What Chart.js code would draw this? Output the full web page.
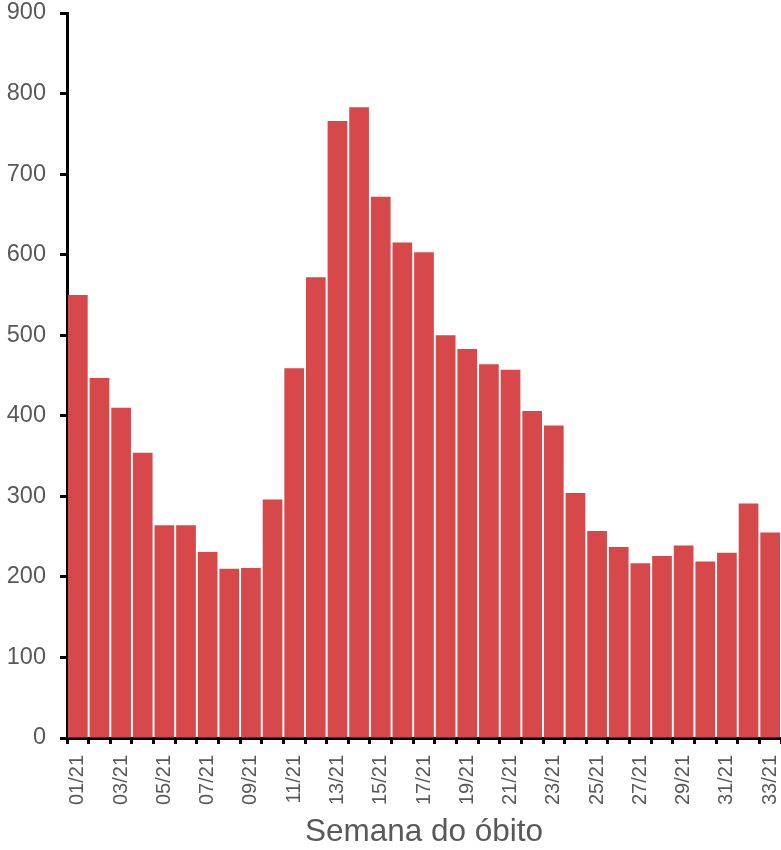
<!DOCTYPE html>
<html>
<head>
<meta charset="utf-8">
<script src="https://cdn.jsdelivr.net/npm/chart.js@4"></script>
<style>
  body { margin: 0; background: #fff; }
  #chart { display: block; }
</style>
</head>
<body>
<canvas id="chart" width="781" height="850"></canvas>
<script>
let weeks = ['01/21', '02/21', '03/21', '04/21', '05/21', '06/21', '07/21', '08/21', '09/21', '10/21', '11/21',
    '12/21', '13/21', '14/21', '15/21', '16/21', '17/21', '18/21', '19/21', '20/21', '21/21', '22/21',
    '23/21', '24/21', '25/21', '26/21', '27/21', '28/21', '29/21', '30/21', '31/21', '32/21', '33/21'];

let deaths = [550, 447, 410, 354, 264, 264, 231, 210, 211, 296, 459,
    572, 766, 783, 672, 615, 603, 500, 483, 464, 457, 406,
    388, 304, 257, 237, 217, 226, 239, 219, 230, 291, 255];

let yTicks = [0, 100, 200, 300, 400, 500, 600, 700, 800, 900];

let axisGray = '#595959';
let fontName = "'Liberation Sans', Arial, sans-serif";

let ctx = document.getElementById('chart').getContext('2d');

let barChart = new Chart(ctx, {
    type: 'bar',
    data: {
        labels: weeks,
        datasets: [{
            data: deaths,
            backgroundColor: 'rgb(214, 72, 73)',
            borderWidth: 0,
            barPercentage: 0.91,
            categoryPercentage: 1.0
        }]
    },
    options: {
        responsive: false,
        animation: false,
        layout: {
            padding: 0
        },
        plugins: {
            legend: { display: false },
            tooltip: { enabled: false }
        },
        scales: {
            x: {
                offset: true,
                // fixed axis height, no extra side padding for the rotated labels
                afterFit: function(scale) {
                    scale.height = 112;
                    scale.paddingLeft = 0;
                    scale.paddingRight = 0;
                },
                grid: {
                    display: true,
                    offset: true,
                    drawOnChartArea: false,
                    drawTicks: true,
                    tickLength: 6,
                    tickWidth: 3,
                    tickColor: '#000'
                },
                border: { display: true, color: '#000', width: 3 },
                ticks: {
                    autoSkip: false,
                    minRotation: 90,
                    maxRotation: 90,
                    padding: 11,
                    color: axisGray,
                    font: { family: fontName, size: 20 },
                    // only every other week gets a label
                    callback: function(value, index) {
                        return index % 2 === 0 ? weeks[index] : '';
                    }
                },
                title: {
                    display: true,
                    text: 'Semana do óbito',
                    color: axisGray,
                    font: { family: fontName, size: 31.5, lineHeight: 1.1 },
                    padding: { top: 0, bottom: 0 }
                }
            },
            y: {
                min: 0,
                max: 900,
                afterFit: function(scale) {
                    scale.width = 67;
                    scale.paddingTop = 13;
                    scale.paddingBottom = 0;
                },
                afterBuildTicks: function(scale) {
                    scale.ticks = yTicks.map(v => ({ value: v }));
                },
                grid: {
                    display: true,
                    drawOnChartArea: false,
                    drawTicks: true,
                    tickLength: 7,
                    tickWidth: 3,
                    tickColor: '#000'
                },
                border: { display: true, color: '#000', width: 3 },
                ticks: {
                    padding: 14,
                    color: axisGray,
                    font: { family: fontName, size: 23.5 }
                }
            }
        }
    }
});
</script>
</body>
</html>
